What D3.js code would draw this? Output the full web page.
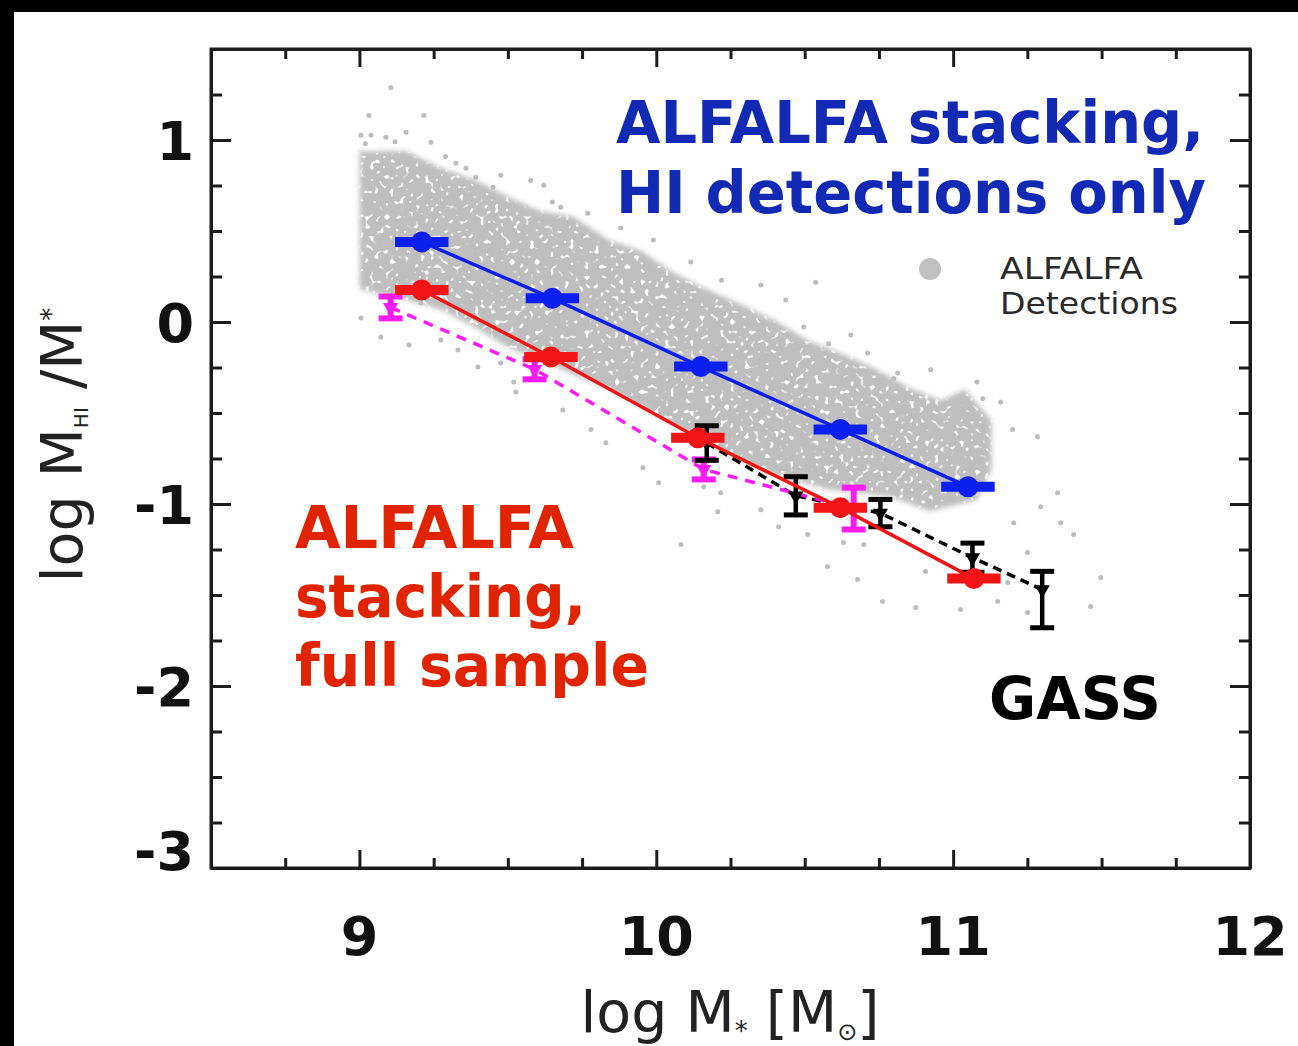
<!DOCTYPE html>
<html>
<head>
<meta charset="utf-8">
<script src="https://cdn.jsdelivr.net/npm/d3@7.9.0/dist/d3.min.js"></script>
<style>
  html, body { margin: 0; padding: 0; background: #fff; }
  svg { display: block; }
  .axis path, .axis line { stroke: #1c1c1c; stroke-width: 3; }
</style>
</head>
<body>
<div id="chart"></div>
<script>
// ALFALFA stacking, HI detections only (bins of log M*)
const blueX = [9.21, 9.65, 10.15, 10.62, 11.05];
const blueY = [0.44, 0.13, -0.245, -0.59, -0.905];

// ALFALFA stacking, full sample
const redX = [9.21, 9.645, 10.14, 10.62, 11.07];
const redY = [0.176, -0.192, -0.636, -1.02, -1.41];

// magenta points (dashed)
const magentaX = [9.105, 9.59, 10.16, 10.665];
const magentaY = [0.08, -0.26, -0.81, -1.025];
const magentaErr = [0.06, 0.055, 0.055, 0.115];

// GASS
const gassX = [10.17, 10.47, 10.755, 11.065, 11.30];
const gassY = [-0.665, -0.955, -1.05, -1.295, -1.47];
const gassErrUp = [0.095, 0.105, 0.075, 0.08, 0.10];
const gassErrDown = [0.095, 0.105, 0.075, 0.08, 0.21];

const binHalfWidth = 0.09;

// ALFALFA detections: outline of the dense cloud
const cloudEdgeX = [9.00, 9.16, 9.27, 9.39, 9.50, 9.61, 9.72, 9.84, 9.95, 10.06, 10.17, 10.28, 10.40, 10.51, 10.62, 10.73, 10.85, 10.96, 11.04, 11.13, 11.13, 11.08,
                    10.92, 10.79, 10.58, 10.46, 10.35, 10.24, 10.05, 9.84, 9.72, 9.61, 9.50, 9.39, 9.27, 9.16, 9.00];
const cloudEdgeY = [0.94, 0.94, 0.85, 0.78, 0.69, 0.61, 0.58, 0.45, 0.39, 0.27, 0.18, 0.10, 0.01, -0.10, -0.17, -0.25, -0.36, -0.43, -0.37, -0.54, -0.81, -0.98,
                    -1.04, -0.96, -0.92, -0.87, -0.81, -0.73, -0.56, -0.37, -0.29, -0.21, -0.14, -0.03, 0.07, 0.12, 0.18];

// ALFALFA detections: scattered galaxies outside the dense cloud
const looseX = [9.106, 9.032, 9.217, 9.005, 9.039, 9.089, 9.157, 9.241, 9.325, 9.359, 9.392, 9.476, 9.577, 9.621, 9.678, 9.769,
                9.88, 10.116, 10.352, 10.655, 10.924, 10.537, 10.436, 10.497, 10.712, 10.813, 11.16, 11.10, 11.284, 11.20,
                11.352, 11.406, 11.497, 11.463, 11.362, 11.295, 11.251, 11.251, 11.15, 11.025, 10.874, 10.907, 11.204, 11.184,
                9.005, 9.072, 9.167, 9.274, 9.332, 9.399, 9.476, 9.52, 9.527, 9.207, 9.83, 9.955, 10.008, 10.16, 10.217,
                10.207, 10.352, 10.412, 10.51, 10.083, 10.577, 10.678, 10.762, 10.699, 10.631, 9.685, 9.78,
                9.02, 9.12, 9.29, 9.45, 9.65, 9.99, 10.22, 10.58, 10.80, 11.08];
const looseY = [1.289, 1.135, 1.135, 1.026, 1.026, 1.015, 1.042, 0.987, 0.872, 0.845, 0.795, 0.806, 0.779, 0.752, 0.631, 0.598,
                0.516, 0.329, 0.203, -0.071, -0.263, 0.219, 0.121, -0.027, -0.170, -0.280, -0.44, -0.42, -0.631, -0.59,
                -0.938, -1.168, -1.404, -1.563, -1.103, -1.015, -1.267, -1.596, -1.536, -1.58, -1.569, -1.371, -1.103, -1.432,
                0.022, -0.082, -0.126, -0.099, -0.154, -0.247, -0.225, -0.329, -0.384, 0.104, -0.664, -0.801, -0.883, -0.905, -0.938,
                -1.042, -1.031, -1.125, -1.168, -1.223, -1.344, -1.415, -1.536, -1.223, -1.212, -0.483, -0.59,
                0.98, 0.99, 0.91, 0.74, 0.66, 0.45, 0.23, -0.12, -0.31, -0.33];

const xMajor = [9, 10, 11, 12];
const yMajor = [1, 0, -1, -2, -3];
const xMinor = d3.range(8.75, 12, 0.25).filter(v => v % 1 !== 0);
const yMinor = d3.range(-2.75, 1.5, 0.25).filter(v => v % 1 !== 0);

const width = 1298, height = 1046;

const svg = d3.select("#chart")
    .append("svg")
    .attr("width", width)
    .attr("height", height);

// speckled, slightly soft fill for the dense part of the cloud
const filter = svg.append("defs").append("filter")
    .attr("id", "speckle")
    .attr("x", "-5%").attr("y", "-5%").attr("width", "110%").attr("height", "110%");
filter.append("feGaussianBlur").attr("in", "SourceGraphic").attr("stdDeviation", 2.5).attr("result", "soft");
filter.append("feTurbulence").attr("type", "fractalNoise").attr("baseFrequency", 0.2)
    .attr("numOctaves", 1).attr("seed", 7).attr("result", "noise");
filter.append("feColorMatrix").attr("in", "noise").attr("type", "matrix")
    .attr("values", "0 0 0 0 1  0 0 0 0 1  0 0 0 0 1  9 0 0 0 -5.4")
    .attr("result", "holes");
filter.append("feComposite").attr("in", "holes").attr("in2", "soft").attr("operator", "in").attr("result", "holesIn");
const merge = filter.append("feMerge");
merge.append("feMergeNode").attr("in", "soft");
merge.append("feMergeNode").attr("in", "holesIn");

// black strips along the top and left of the picture
svg.append("rect").attr("x", 0).attr("y", 0).attr("width", width).attr("height", 12).attr("fill", "#000");
svg.append("rect").attr("x", 0).attr("y", 0).attr("width", 14).attr("height", height).attr("fill", "#000");

const x = d3.scaleLinear().domain([8.5, 12]).range([211, 1250]);
const y = d3.scaleLinear().domain([-3, 1.5]).range([868, 49]);

// grey cloud of detections
const cloud = cloudEdgeX.map((v, i) => [v, cloudEdgeY[i]]);
svg.append("path")
    .attr("d", d3.line().x(d => x(d[0])).y(d => y(d[1])).curve(d3.curveLinearClosed)(cloud))
    .attr("fill", "#bfbfbf")
    .attr("filter", "url(#speckle)");

svg.append("g")
    .selectAll("circle")
    .data(looseX.map((v, i) => [v, looseY[i]]))
    .join("circle")
    .attr("cx", d => x(d[0]))
    .attr("cy", d => y(d[1]))
    .attr("r", 2.5)
    .attr("fill", "#bdbdbd");

// ticks on all four sides, pointing in
function ticks(axis, transform, values, size) {
    svg.append("g")
        .attr("class", "axis")
        .attr("transform", transform)
        .call(axis.tickValues(values).tickSize(size).tickSizeOuter(0).tickFormat(""));
}
ticks(d3.axisBottom(x), "translate(0,868)", xMajor, -18);
ticks(d3.axisBottom(x), "translate(0,868)", xMinor, -10);
ticks(d3.axisTop(x), "translate(0,49)", xMajor, -18);
ticks(d3.axisTop(x), "translate(0,49)", xMinor, -10);
ticks(d3.axisLeft(y), "translate(211,0)", yMajor, -20);
ticks(d3.axisLeft(y), "translate(211,0)", yMinor, -11);
ticks(d3.axisRight(y), "translate(1250,0)", yMajor, -20);
ticks(d3.axisRight(y), "translate(1250,0)", yMinor, -11);

svg.append("rect")
    .attr("x", 211).attr("y", 49)
    .attr("width", 1250 - 211).attr("height", 868 - 49)
    .attr("fill", "none")
    .attr("stroke", "#1c1c1c")
    .attr("stroke-width", 3);

// tick labels
svg.append("g")
    .selectAll("text")
    .data(xMajor)
    .join("text")
    .attr("x", d => x(d))
    .attr("y", 955)
    .attr("text-anchor", "middle")
    .style("font", "bold 54px 'DejaVu Sans'")
    .attr("fill", "#111")
    .text(d => d);

svg.append("g")
    .selectAll("text")
    .data(yMajor)
    .join("text")
    .attr("x", 194)
    .attr("y", d => d === -3 ? y(d) + 2 : y(d) + 20)
    .attr("text-anchor", "end")
    .style("font", "bold 54px 'DejaVu Sans'")
    .attr("fill", "#111")
    .text(d => d);

// axis titles
const xTitle = svg.append("text")
    .attr("x", 730).attr("y", 1032)
    .attr("text-anchor", "middle")
    .style("font", "57px 'DejaVu Sans'")
    .attr("fill", "#222");
xTitle.append("tspan").text("log M");
xTitle.append("tspan").attr("dy", 8).style("font-size", "26px").text("*");
xTitle.append("tspan").attr("dy", -8).text(" [M");
xTitle.append("tspan").attr("dy", 8).style("font-size", "24px").text("⊙");
xTitle.append("tspan").attr("dy", -8).text("]");

const yTitle = svg.append("text")
    .attr("transform", "translate(82,445) rotate(-90)")
    .attr("text-anchor", "middle")
    .style("font", "57px 'DejaVu Sans'")
    .attr("fill", "#222");
yTitle.append("tspan").text("log M");
yTitle.append("tspan").attr("dy", 6).style("font-size", "20px").text("HI");
yTitle.append("tspan").attr("dy", -6).text(" /M");
yTitle.append("tspan").attr("dy", -22).style("font-size", "26px").text("*");

// GASS: dashed line, error bars, triangles
const gass = gassX.map((v, i) => ({x: v, y: gassY[i], up: gassErrUp[i], down: gassErrDown[i]}));
svg.append("path")
    .attr("d", d3.line().x(d => x(d.x)).y(d => y(d.y))(gass))
    .attr("fill", "none")
    .attr("stroke", "#000")
    .attr("stroke-width", 3.5)
    .attr("stroke-dasharray", "9,6");

const tri = d3.symbol().type(d3.symbolTriangle).size(100);

function vErrorBars(data, color, lw, cap, capW) {
    const g = svg.append("g").attr("stroke", color).attr("fill", color);
    g.selectAll(".v").data(data).join("line")
        .attr("x1", d => x(d.x)).attr("x2", d => x(d.x))
        .attr("y1", d => y(d.y + d.up)).attr("y2", d => y(d.y - d.down))
        .attr("stroke-width", lw);
    g.selectAll(".top").data(data).join("line")
        .attr("x1", d => x(d.x) - cap).attr("x2", d => x(d.x) + cap)
        .attr("y1", d => y(d.y + d.up)).attr("y2", d => y(d.y + d.up))
        .attr("stroke-width", capW);
    g.selectAll(".bot").data(data).join("line")
        .attr("x1", d => x(d.x) - cap).attr("x2", d => x(d.x) + cap)
        .attr("y1", d => y(d.y - d.down)).attr("y2", d => y(d.y - d.down))
        .attr("stroke-width", capW);
    g.selectAll("path").data(data).join("path")
        .attr("d", tri)
        .attr("stroke", "none")
        .attr("transform", d => `translate(${x(d.x)},${y(d.y)}) rotate(180)`);
}

// magenta: dashed line and error bars
const magenta = magentaX.map((v, i) => ({x: v, y: magentaY[i], up: magentaErr[i], down: magentaErr[i]}));
svg.append("path")
    .attr("d", d3.line().x(d => x(d.x)).y(d => y(d.y))(magenta))
    .attr("fill", "none")
    .attr("stroke", "#fb1bf5")
    .attr("stroke-width", 3.5)
    .attr("stroke-dasharray", "10,8");
vErrorBars(magenta, "#fb1bf5", 6, 12, 6);
vErrorBars(gass, "#000", 4.5, 12, 5);

// stacking results: lines, bin widths, points
function stackSeries(xs, ys, color) {
    const pts = xs.map((v, i) => [v, ys[i]]);
    svg.append("path")
        .attr("d", d3.line().x(d => x(d[0])).y(d => y(d[1]))(pts))
        .attr("fill", "none")
        .attr("stroke", color)
        .attr("stroke-width", 3.5);
    svg.append("g").selectAll("line").data(pts).join("line")
        .attr("x1", d => x(d[0] - binHalfWidth)).attr("x2", d => x(d[0] + binHalfWidth))
        .attr("y1", d => y(d[1])).attr("y2", d => y(d[1]))
        .attr("stroke", color)
        .attr("stroke-width", 10);
    svg.append("g").selectAll("circle").data(pts).join("circle")
        .attr("cx", d => x(d[0])).attr("cy", d => y(d[1]))
        .attr("r", 10.5)
        .attr("fill", color);
}
stackSeries(redX, redY, "#f21515");
stackSeries(blueX, blueY, "#0a1ff0");

// legend
svg.append("circle").attr("cx", 930).attr("cy", 269).attr("r", 11).attr("fill", "#c0c0c0");
svg.append("text").attr("x", 1000).attr("y", 279)
    .attr("textLength", 143).attr("lengthAdjust", "spacingAndGlyphs")
    .style("font", "31px 'DejaVu Sans'").attr("fill", "#2a2a2a").text("ALFALFA");
svg.append("text").attr("x", 1000).attr("y", 314)
    .attr("textLength", 178).attr("lengthAdjust", "spacingAndGlyphs")
    .style("font", "31px 'DejaVu Sans'").attr("fill", "#2a2a2a").text("Detections");

// annotations
function label(txt, px, py, len, color) {
    svg.append("text")
        .attr("x", px).attr("y", py)
        .attr("textLength", len)
        .attr("lengthAdjust", "spacingAndGlyphs")
        .style("font", "bold 59px 'DejaVu Sans'")
        .attr("fill", color)
        .text(txt);
}
label("ALFALFA stacking,", 616, 143, 588, "#1229b4");
label("HI detections only", 616, 213, 590, "#1229b4");
label("ALFALFA", 295, 548, 279, "#e12400");
label("stacking,", 295, 617, 291, "#e12400");
label("full sample", 295, 686, 354, "#e12400");
label("GASS", 989, 719, 172, "#000");
</script>
</body>
</html>
